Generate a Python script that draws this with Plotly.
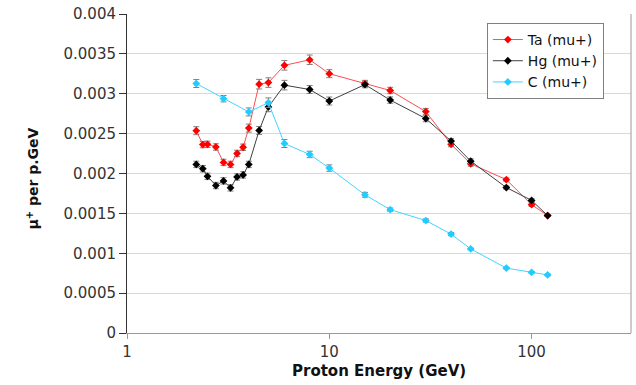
import plotly.graph_objects as go
import math

# ---- data ----
ta_energy = [2.2, 2.37, 2.5, 2.75, 3.0, 3.25, 3.5, 3.75, 4.0, 4.5, 5, 6, 8, 10, 15, 20, 30, 40, 50, 75, 100, 120]
ta_yield = [0.002537, 0.002363, 0.002366, 0.002333, 0.002139, 0.002114, 0.002251, 0.002329, 0.002569,
            0.003120, 0.003140, 0.003356, 0.003426, 0.003252, 0.003128, 0.003041, 0.002776, 0.002366,
            0.002122, 0.001923, 0.001609, 0.001473]
ta_err = [0.00005, 0.00004, 0.00004, 0.00004, 0.00004, 0.00004, 0.00004, 0.00004, 0.00005,
          0.00006, 0.00006, 0.00006, 0.00006, 0.00005, 0.00004, 0.00004, 0.00004, 0.00003,
          0.00003, 0.00002, 0.00002, 0.00001]

hg_energy = [2.2, 2.37, 2.5, 2.75, 3.0, 3.25, 3.5, 3.75, 4.0, 4.5, 5, 6, 8, 10, 15, 20, 30, 40, 50, 75, 100, 120]
hg_yield = [0.002114, 0.002060, 0.001965, 0.001849, 0.001907, 0.001820, 0.001957, 0.001982, 0.002114,
            0.002540, 0.002835, 0.003108, 0.003053, 0.002909, 0.003115, 0.002921, 0.002689, 0.002407,
            0.002155, 0.001824, 0.001663, 0.001473]
hg_err = [0.00004, 0.00004, 0.00004, 0.00004, 0.00004, 0.00004, 0.00004, 0.00004, 0.00004,
          0.00005, 0.00006, 0.00006, 0.00005, 0.00005, 0.00004, 0.00004, 0.00004, 0.00003,
          0.00003, 0.00002, 0.00002, 0.00001]

c_energy = [2.2, 3.0, 4.0, 5, 6, 8, 10, 15, 20, 30, 40, 50, 75, 100, 120]
c_yield = [0.003128, 0.002938, 0.002772, 0.002888, 0.002376, 0.002239, 0.002068, 0.001733,
           0.001547, 0.001410, 0.001240, 0.001054, 0.000814, 0.000761, 0.000728]
c_err = [0.00005, 0.00004, 0.00005, 0.00006, 0.00005, 0.00004, 0.00004, 0.00003,
         0.00002, 0.00002, 0.00002, 0.00001, 0.00001, 0.00001, 0.00001]

series_names = ["Ta (mu+)", "Hg (mu+)", "C (mu+)"]
series_colors = ["#FF0000", "#000000", "#22CCFF"]
line_colors = ["#FF4D4D", "#404040", "#44D4FF"]

x_tickvals = [1, 10, 100]
x_ticktext = ["1", "10", "100"]
y_tickvals = [0, 0.0005, 0.001, 0.0015, 0.002, 0.0025, 0.003, 0.0035, 0.004]
y_ticktext = ["0", "0.0005", "0.001", "0.0015", "0.002", "0.0025", "0.003", "0.0035", "0.004"]

x_title = "Proton Energy (GeV)"
y_title = "μ<sup>+</sup> per p.GeV"

FONT = "DejaVu Sans"

fig = go.Figure()
for (xs, ys, es), name, col, lcol in zip(
        [(ta_energy, ta_yield, ta_err), (hg_energy, hg_yield, hg_err), (c_energy, c_yield, c_err)],
        series_names, series_colors, line_colors):
    fig.add_trace(go.Scatter(
        x=xs, y=ys, name=name, mode="lines+markers",
        line=dict(color=lcol, width=1),
        marker=dict(symbol="diamond", size=6, color=col),
        error_y=dict(type="data", array=es, visible=True, color="#7F7F7F", thickness=1, width=3),
    ))

fig.update_layout(
    width=636, height=385,
    margin=dict(l=127, r=5, t=11, b=52),
    paper_bgcolor="white", plot_bgcolor="white",
    font=dict(family=FONT, size=14, color="#333"),
    showlegend=True,
    legend=dict(x=0.714, y=0.972, xanchor="left", yanchor="top",
                bgcolor="white", bordercolor="#808080", borderwidth=1,
                font=dict(family=FONT, size=14, color="#111"),
                itemwidth=30, tracegroupgap=0),
)
fig.update_xaxes(
    type="log", range=[0, math.log10(310)],
    tickvals=x_tickvals, ticktext=x_ticktext,
    showgrid=False, zeroline=False,
    showline=True, linecolor="#999999", linewidth=1,
    ticks="outside", ticklen=5, tickcolor="#999999",
    tickfont=dict(family=FONT, size=15, color="#333"),
)
fig.update_yaxes(
    range=[0, 0.004], tickvals=y_tickvals, ticktext=y_ticktext,
    showgrid=True, gridcolor="#D9D9D9", gridwidth=1, zeroline=False,
    showline=True, linecolor="#333333", linewidth=1,
    ticks="outside", ticklen=7, tickcolor="#333333",
    tickfont=dict(family=FONT, size=15, color="#333"),
)
# right frame edge
fig.add_shape(type="line", xref="paper", yref="paper", x0=1, x1=1, y0=0, y1=1,
              line=dict(color="#999999", width=1))
fig.add_annotation(text="<b>" + x_title + "</b>", xref="paper", yref="paper",
                   x=0.5, y=-(371 - 333) / 322, xanchor="center", yanchor="middle",
                   showarrow=False, font=dict(family=FONT, size=15, color="#111"))
fig.add_annotation(text="<b>" + y_title + "</b>", xref="paper", yref="paper",
                   x=(33 - 127) / 504, y=(333 - 177) / 322, xanchor="center", yanchor="middle",
                   textangle=-90, showarrow=False, font=dict(family=FONT, size=14, color="#111"))

fig.write_html("out.html")
